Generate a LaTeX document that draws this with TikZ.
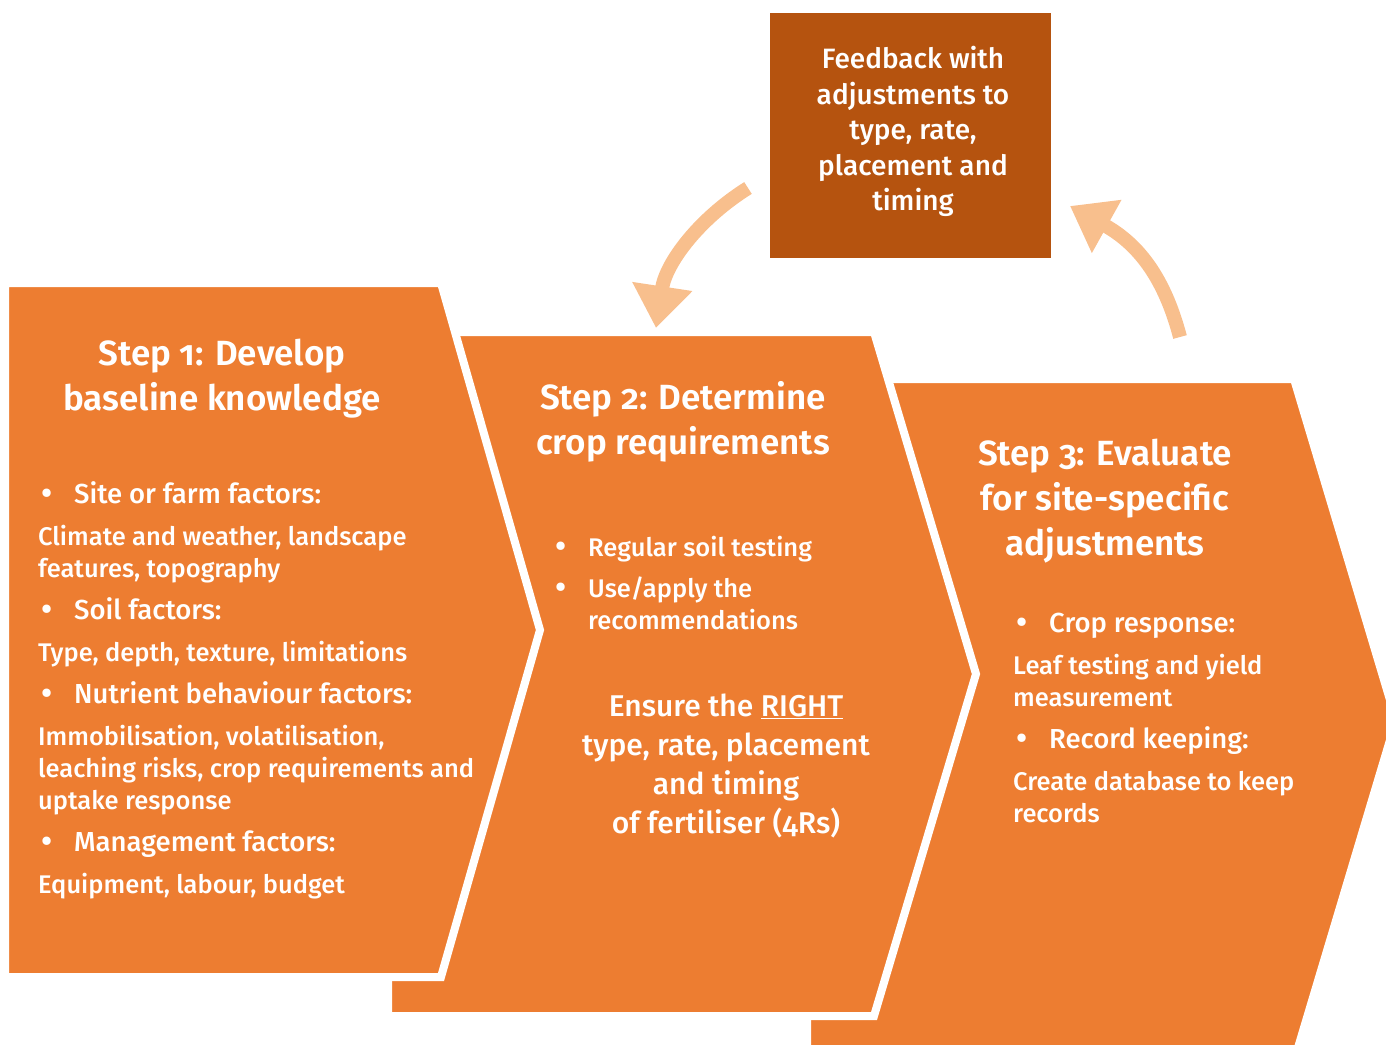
\documentclass[tikz,border=0pt]{standalone}
\usepackage{fontspec}
\setmainfont{Fira Sans}[Numbers=OldStyle]
\newfontfamily\headfont{Fira Sans SemiBold}[Numbers=OldStyle]
\newfontfamily\listfont{Fira Sans Medium}[Numbers=OldStyle]
\usetikzlibrary{arrows.meta}

\definecolor{steporange}{HTML}{ED7D31}
\definecolor{feedbackbrown}{HTML}{B5530F}
\definecolor{arrowpeach}{HTML}{F8BF8D}

\newcommand{\headsize}{\fontsize{27.5}{32}\selectfont}
\newcommand{\bitem}[1]{\makebox[36pt][l]{\hspace{3pt}\raisebox{-1.5pt}{\fontsize{33}{32}\selectfont•}}#1}

\tikzstyle{stepshape} = [fill=steporange, draw=white, line width=8pt, line join=miter]
\tikzstyle{steptitle} = [text=white, align=center, inner sep=0pt, font=\headfont\fontsize{35}{45}\selectfont]
\tikzstyle{steplist} = [text=white, align=left, inner sep=0pt, anchor=base west, font=\listfont\fontsize{25.5}{32}\selectfont]
\tikzstyle{rights} = [text=white, align=center, inner sep=0pt, font=\listfont\fontsize{30}{39}\selectfont]
\tikzstyle{feedback box} = [fill=feedbackbrown, inner sep=0pt, minimum width=281pt, minimum height=245pt]
\tikzstyle{feedback text} = [text=white, align=center, inner sep=0pt, font=\listfont\fontsize{28}{35.5}\selectfont]
\tikzstyle{loop arrow} = [draw=arrowpeach, line width=14pt, -{Triangle[length=42pt,width=58pt]}]

\begin{document}
\begin{tikzpicture}[x=1pt,y=-1pt]
\useasboundingbox (0,0) rectangle (1386,1044);
\clip (0,0) rectangle (1386,1044);

% chevrons, back to front
\draw[stepshape] (807,379) -- (1294,379) -- (1396,720) -- (1294,1061) -- (807,1061) -- cycle;
\draw[stepshape] (388,332) -- (874,332) -- (976,674) -- (874,1016) -- (388,1016) -- cycle;
\draw[stepshape] (5,283) -- (441,283) -- (540,630) -- (441,977) -- (5,977) -- cycle;

\node[feedback box] (fb) at (910.5,135.5) {};
\node[feedback text] (fbtext) at (913,131.5) {Feedback with\\adjustments to\\type, rate,\\placement and\\timing};

\coordinate (fbleft) at (748,188);
\coordinate (steptwotop) at (656,328);
\coordinate (stepthreetop) at (1180,337);
\coordinate (fbright) at (1070,206);
\draw[loop arrow] (fbleft) .. controls (700,218) and (666,262) .. (steptwotop);
\draw[loop arrow] (stepthreetop) .. controls (1165,280) and (1140,245) .. (fbright);

\node[steptitle] (title1) at (222,379) {Step 1: Develop\\baseline knowledge};
\node[steptitle] (title2) at (683,422) {Step 2: Determine\\crop requirements};
\node[steptitle] (title3) at (1105,501) {Step 3: Evaluate\\for site-specific\\adjustments};

\node[steplist] (list1) at (38,893) {%
{\headsize\bitem{Site or farm factors:}}\\[10pt]
Climate and weather, landscape\\
features, topography\\[10pt]
{\headsize\bitem{Soil factors:}}\\[10pt]
Type, depth, texture, limitations\\[10pt]
{\headsize\bitem{Nutrient behaviour factors:}}\\[10pt]
Immobilisation, volatilisation,\\
leaching risks, crop requirements and\\
uptake response\\[10pt]
{\headsize\bitem{Management factors:}}\\[10pt]
Equipment, labour, budget};

\node[steplist] (list2) at (552,629) {%
\bitem{Regular soil testing}\\[9pt]
\bitem{Use/apply the}\\
\hspace*{36pt}recommendations};

\node[rights] (right4) at (726,765.5) {Ensure the \underline{RIGHT}\\type, rate, placement\\and timing\\of fertiliser (4Rs)};

\node[steplist] (list3) at (1013,822) {%
{\headsize\bitem{Crop response:}}\\[10pt]
Leaf testing and yield\\
measurement\\[10pt]
{\headsize\bitem{Record keeping:}}\\[10pt]
Create database to keep\\
records};
\end{tikzpicture}
\end{document}
